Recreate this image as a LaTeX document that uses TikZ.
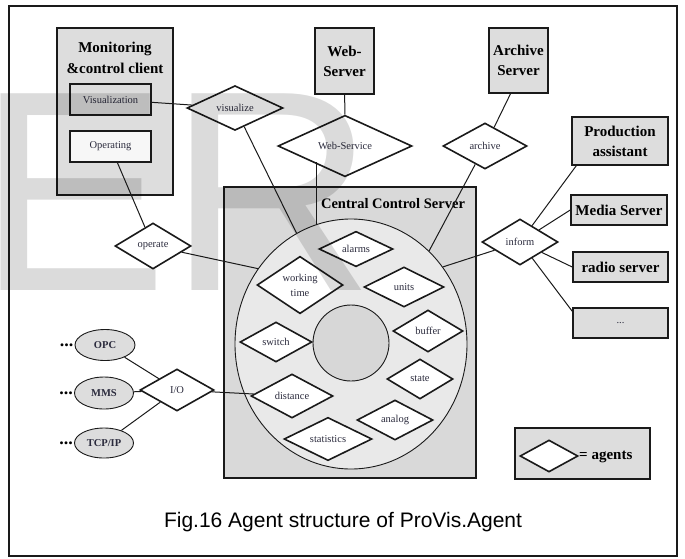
\documentclass[tikz,border=0pt]{standalone}
\usepackage{fontspec}
\setmainfont{Liberation Serif}
\newfontfamily\capfont{Liberation Sans}
\usepackage{tikz}
\usetikzlibrary{shapes.geometric,positioning}
\definecolor{ink}{HTML}{1A1A1A}
\definecolor{lbltext}{HTML}{2B2B3D}
\definecolor{boxgray}{HTML}{DDDDDD}
\definecolor{srvgray}{HTML}{D9D9D9}
\definecolor{ringgray}{HTML}{E9E9E9}
\definecolor{hubgray}{HTML}{D7D7D7}
\definecolor{paper}{HTML}{F7F7F7}
\tikzset{
  frame/.style={draw=ink, line width=1.8pt},
  box/.style={rectangle, draw=ink, line width=1.5pt, fill=boxgray, inner sep=0pt, align=center, font=\fontsize{15}{20}\selectfont\bfseries},
  subbox/.style={rectangle, draw=ink, line width=1.5pt, inner sep=0pt, minimum width=81pt, minimum height=31pt, font=\fontsize{10.5}{13}\selectfont, text=lbltext},
  agent/.style={diamond, draw=ink, line width=1.6pt, fill=white, inner sep=0pt, align=center, text=lbltext, font=\fontsize{10.5}{15}\selectfont},
  proto/.style={ellipse, draw=ink, line width=0.9pt, fill=boxgray, inner sep=0pt, minimum width=59pt, minimum height=31pt, font=\fontsize{10.5}{12}\selectfont\bfseries, text=lbltext},
  conn/.style={draw=ink, line width=1pt},
  title/.style={align=center, inner sep=0pt, font=\fontsize{15}{21}\selectfont\bfseries},
  more/.style={inner sep=0pt, font=\fontsize{18}{18}\selectfont\bfseries},
  wmark/.style={text=black, text opacity=0.14, inner sep=0pt, font=\capfont\fontsize{286}{286}\selectfont}
}
\begin{document}
\begin{tikzpicture}[x=1pt, y=-1pt]
  \useasboundingbox (0,0) rectangle (685,558);
  \draw[frame] (9,6) rectangle (677,556);

  % client
  \node[box, minimum width=116pt, minimum height=167pt] (client) at (115,111.5) {};
  \node[title] (clienttitle) at (115,58) {Monitoring\\\&control client};
  \node[subbox, fill=boxgray] (visbox) at (110.5,99.5) {Visualization};
  \node[subbox, fill=paper] (opbox) at (110.5,146.5) {Operating};

  % servers
  \node[box, minimum width=59pt, minimum height=66pt] (websrv) at (344.5,61) {Web-\\Server};
  \node[box, minimum width=59pt, minimum height=65pt] (archsrv) at (518.5,60.5) {Archive\\Server};
  \node[box, minimum width=96pt, minimum height=48pt] (prod) at (620,141) {Production\\assistant};
  \node[box, minimum width=96pt, minimum height=30pt] (media) at (619,210) {Media Server};
  \node[box, minimum width=95pt, minimum height=30pt] (radio) at (620.5,267) {radio server};
  \node[box, minimum width=95pt, minimum height=30pt, font=\fontsize{10.5}{13}\selectfont, text=lbltext] (more) at (620.5,323) {...};

  % central control server
  \node[box, fill=srvgray, minimum width=252pt, minimum height=291pt] (central) at (350,332.5) {};
  \node[title, font=\fontsize{14.5}{18}\selectfont\bfseries] (centraltitle) at (393,204) {Central Control Server};
  \node[ellipse, draw=ink, line width=0.9pt, fill=ringgray, inner sep=0pt, minimum width=232pt, minimum height=250pt] (ring) at (351,344) {};
  \node[circle, draw=ink, line width=0.9pt, fill=hubgray, inner sep=0pt, minimum size=76pt] (hub) at (351,343) {};

  \node[agent, minimum width=74pt, minimum height=34pt] (alarms) at (356,249) {alarms};
  \node[agent, minimum width=86pt, minimum height=56pt] (worktime) at (300,285) {working\\time};
  \node[agent, minimum width=80pt, minimum height=40pt] (units) at (404,287) {units};
  \node[agent, minimum width=70pt, minimum height=42pt] (buffer) at (428,331) {buffer};
  \node[agent, minimum width=72pt, minimum height=40pt] (switch) at (276,342) {switch};
  \node[agent, minimum width=66pt, minimum height=40pt] (state) at (420,379) {state};
  \node[agent, minimum width=82pt, minimum height=44pt] (distance) at (292,396) {distance};
  \node[agent, minimum width=76pt, minimum height=40pt] (analog) at (395,420) {analog};
  \node[agent, minimum width=88pt, minimum height=42pt] (statistics) at (328,439) {statistics};

  % outer agents
  \node[agent, minimum width=96pt, minimum height=44pt] (visualize) at (235,108) {visualize};
  \node[agent, minimum width=134pt, minimum height=48pt] (websvc) at (345,146) {Web-Service};
  \node[agent, minimum width=84pt, minimum height=46pt] (archive) at (485,146) {archive};
  \node[agent, minimum width=76pt, minimum height=46pt] (inform) at (520,242) {inform};
  \node[agent, minimum width=76pt, minimum height=46pt] (operate) at (153,246) {operate};
  \node[agent, minimum width=74pt, minimum height=42pt] (io) at (177,390) {I/O};

  % protocols
  \node[proto, minimum width=60pt] (opc) at (105,345) {OPC};
  \node[proto, minimum height=32pt] (mms) at (104,393) {MMS};
  \node[proto, minimum height=30pt] (tcp) at (104,443) {TCP/IP};
  \node[more, left=1pt of opc] (opcdots) {...};
  \node[more, left=1pt of mms] (mmsdots) {...};
  \node[more, left=1pt of tcp] (tcpdots) {...};

  % connectors
  \draw[conn] (visbox) -- (visualize);
  \draw[conn] (visualize) -- (ring);
  \draw[conn] (websrv) -- (websvc);
  \draw[conn] (ring.106) -- (ring.106 |- websvc.south west);
  \draw[conn] ([xshift=-8pt]archsrv.south) -- (archive);
  \draw[conn] (ring.50) -- (archive);
  \draw[conn] (opbox) -- (operate);
  \draw[conn] (operate) -- (ring.141);
  \draw[conn] (inform) -- (ring.40);
  \draw[conn] (inform) -- ([xshift=5pt]prod.south west);
  \draw[conn] (inform) -- (media.west);
  \draw[conn] (inform) -- (radio.west);
  \draw[conn] (inform) -- ([yshift=-4pt]more.north west);
  \draw[conn] (opc) -- (io);
  \draw[conn] (mms) -- (io);
  \draw[conn] (tcp) -- (io);
  \draw[conn] (io) -- (distance);

  % legend
  \node[box, minimum width=135pt, minimum height=51pt] (legend) at (582.5,453.5) {};
  \node[agent, minimum width=58pt, minimum height=32pt] (legdiam) at (549,456) {};
  \node[anchor=west, inner sep=0pt, font=\fontsize{15}{18}\selectfont\bfseries] (legtext) at (579,457) {= agents};

  \node[font=\capfont\fontsize{21}{24}\selectfont] (caption) at (343,522) {Fig.16 Agent structure of ProVis.Agent};

  % watermark
  \node[wmark, anchor=base west] (wm) at (-22.6,290) {ER};
\end{tikzpicture}
\end{document}
